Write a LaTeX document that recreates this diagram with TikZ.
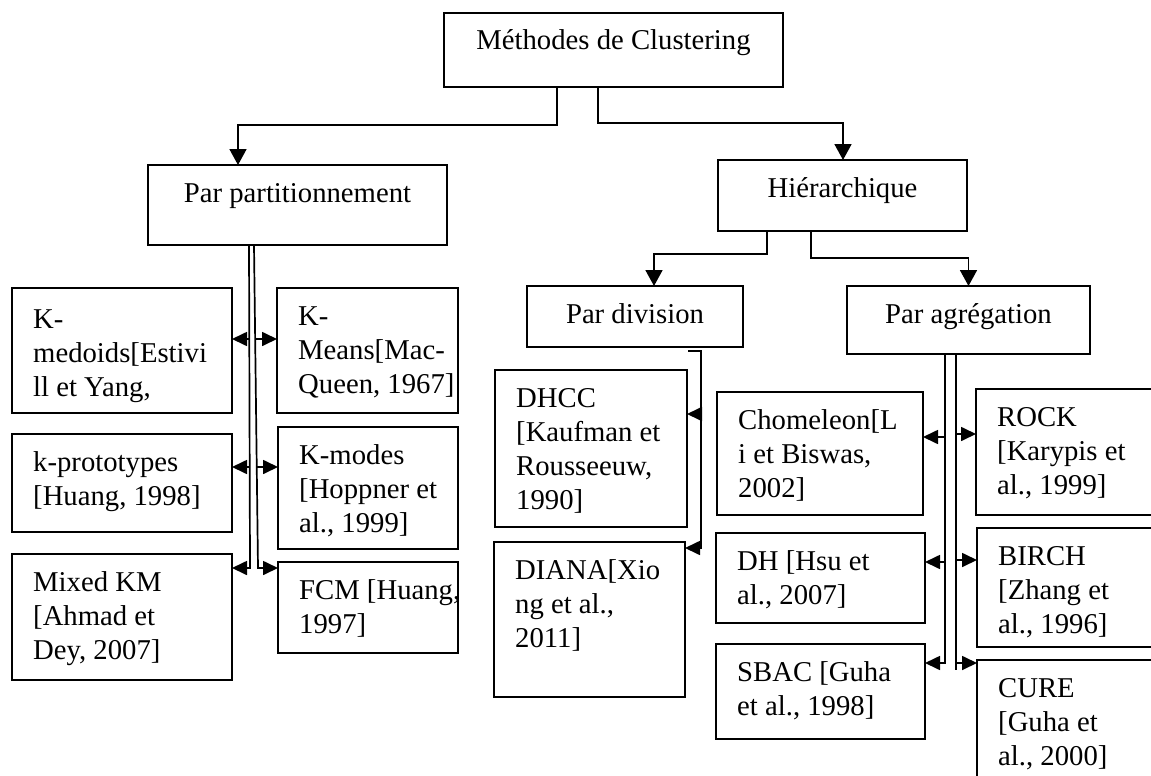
\documentclass[tikz,border=0pt]{standalone}
\usepackage{fontspec}
\setmainfont{Liberation Serif}
\usetikzlibrary{arrows.meta,calc}

\tikzset{
  box/.style={draw, line width=1.7pt, rectangle, inner sep=0pt, outer sep=0pt, anchor=north west},
  txt/.style={font=\fontsize{28.7}{34}\selectfont, inner sep=0pt, align=left, anchor=north west},
  ctxt/.style={font=\fontsize{28.7}{34}\selectfont, inner sep=0pt, anchor=base},
  conn/.style={line width=1.7pt},
  varr/.style={conn, -{Triangle[length=16pt,width=17pt]}},
  harr/.style={conn, -{Triangle[length=15pt,width=14pt]}},
}

% box named #1 with corners (#2,#3) and (#4,#5), y measured downwards
\newcommand\mkbox[5]{\node[box, minimum width={#4-#2}, minimum height={#5-#3}] (#1) at (#2,#3) {};}
% left-aligned text block inside a box, first baseline #1 below the top edge
\newcommand\btext[3][37.5]{\node[txt] at ($(#2.north west)+(21,#1-23.8)$) {#3};}
% centred single line inside a box
\newcommand\ctext[2]{\node[ctxt] at ($(#1.north)+(0,37)$) {#2};}

\begin{document}
\begin{tikzpicture}[x=1pt, y=-1pt]
\useasboundingbox (0,0) rectangle (1151,776);
\fill[white] (0,0) rectangle (1151,776);
\clip (0,0) rectangle (1151,776);

% ---- boxes ----
\mkbox{top}{444}{13}{783}{87}
\mkbox{part}{148}{165}{447}{245}
\mkbox{hier}{718}{160}{967}{231}
\mkbox{kmed}{12}{288}{232}{413}
\mkbox{kmeans}{277}{288}{458}{413}
\mkbox{kproto}{12}{434}{232}{532}
\mkbox{kmodes}{278}{427}{458}{549}
\mkbox{mixed}{12}{554}{232}{680}
\mkbox{fcm}{278}{562}{458}{653}
\mkbox{pdiv}{527}{286}{743}{347}
\mkbox{pagr}{847}{286}{1090}{354}
\mkbox{dhcc}{495}{370}{687}{527}
\mkbox{diana}{494}{542}{685}{697}
\mkbox{chom}{717}{392}{923}{515}
\mkbox{dh}{716}{533}{925}{623}
\mkbox{sbac}{716}{644}{925}{739}
\mkbox{rock}{976}{389}{1165}{515}
\mkbox{birch}{977}{528}{1165}{647}
\mkbox{cure}{977}{660}{1165}{800}

% ---- texts ----
\ctext{top}{Méthodes de Clustering}
\ctext{part}{Par partitionnement}
\ctext{hier}{Hiérarchique}
\ctext{pdiv}{Par division}
\ctext{pagr}{Par agrégation}

\btext[40]{kmed}{\strut K-\\\strut medoids[Estivi\\\strut ll et Yang,}
\btext{kmeans}{\strut K-\\\strut Means[Mac-\\\strut Queen, 1967]}
\btext{kproto}{\strut k-prototypes\\\strut [Huang, 1998]}
\btext{kmodes}{\strut K-modes\\\strut [Hoppner et\\\strut al., 1999]}
\btext{mixed}{\strut Mixed KM\\\strut [Ahmad et\\\strut Dey, 2007]}
\btext{fcm}{\strut FCM [Huang,\\\strut 1997]}
\btext{dhcc}{\strut DHCC\\\strut [Kaufman et\\\strut Rousseeuw,\\\strut 1990]}
\btext{diana}{\strut DIANA[Xio\\\strut ng et al.,\\\strut 2011]}
\btext{chom}{\strut Chomeleon[L\\\strut i et Biswas,\\\strut 2002]}
\btext{dh}{\strut DH [Hsu et\\\strut al., 2007]}
\btext{sbac}{\strut SBAC [Guha\\\strut et al., 1998]}
\btext{rock}{\strut ROCK\\\strut [Karypis et\\\strut al., 1999]}
\btext{birch}{\strut BIRCH\\\strut [Zhang et\\\strut al., 1996]}
\btext{cure}{\strut CURE\\\strut [Guha et\\\strut al., 2000]}

% ---- tree connectors ----
\draw[varr] ($(top.south west)+(113,0)$) |- ($(part.north west)+(90,-40)$) -- ($(part.north west)+(90,0)$);
\draw[varr] ($(top.south west)+(154,0)$) |- ($(hier.north west)+(125,-37)$) -- ($(hier.north west)+(125,0)$);
\draw[varr] ($(hier.south west)+(49,0)$) |- ($(pdiv.north west)+(127,-32)$) -- ($(pdiv.north west)+(127,0)$);
\draw[varr] ($(hier.south west)+(93,0)$) |- ($(pagr.north)+(0,-28)$) -- (pagr.north);

% ---- partitioning spine ----
\coordinate (pl1) at ($(part.south west)+(101,0)$);
\coordinate (pl2) at ($(part.south west)+(102,323)$);
\coordinate (pr1) at ($(part.south west)+(106,0)$);
\coordinate (pr2) at ($(part.south west)+(110,323)$);
\draw[harr] (pl1) -- (pl2) -- (pl2 -| mixed.east);
\draw[harr] (pr1) -- (pr2) -- (pr2 -| fcm.west);
\draw[harr] ($(kmed.north east)+(17,51)$) -- ($(kmed.north east)+(0,51)$);
\draw[harr] ($(kmeans.north west)+(-22,51)$) -- ($(kmeans.north west)+(0,51)$);
\draw[harr] ($(kproto.north east)+(17.5,33)$) -- ($(kproto.north east)+(0,33)$);
\draw[harr] ($(kmodes.north west)+(-21.5,40)$) -- ($(kmodes.north west)+(0,40)$);

% ---- division spine ----
\coordinate (dv0) at ($(pdiv.south east)+(-55,4)$);
\coordinate (dv1) at ($(pdiv.south east)+(-42,4)$);
\coordinate (dv2) at ($(pdiv.south east)+(-42,201)$);
\draw[harr] (dv0) -- (dv1) -- (dv2) -- (dv2 -| diana.east);
\draw[harr] ($(dhcc.north east)+(14,44)$) -- ($(dhcc.north east)+(0,44)$);

% ---- aggregation spine ----
\coordinate (al1) at ($(pagr.south west)+(98,0)$);
\coordinate (al2) at ($(pagr.south west)+(98,309)$);
\coordinate (ar1) at ($(pagr.south west)+(109,0)$);
\coordinate (ar2) at ($(pagr.south west)+(109,316)$);
\draw[harr] (al1) -- (al2) -- (al2 -| sbac.east);
\draw[conn] (ar1) -- (ar2);
\draw[harr] ($(chom.north east)+(22,45)$) -- ($(chom.north east)+(0,45)$);
\draw[harr] ($(dh.north east)+(20,29)$) -- ($(dh.north east)+(0,29)$);
\draw[harr] ($(rock.north west)+(-20,45)$) -- ($(rock.north west)+(0,45)$);
\draw[harr] ($(birch.north west)+(-21,32)$) -- ($(birch.north west)+(0,32)$);
\draw[harr] ($(cure.north west)+(-21,3)$) -- ($(cure.north west)+(0,3)$);
\end{tikzpicture}
\end{document}
